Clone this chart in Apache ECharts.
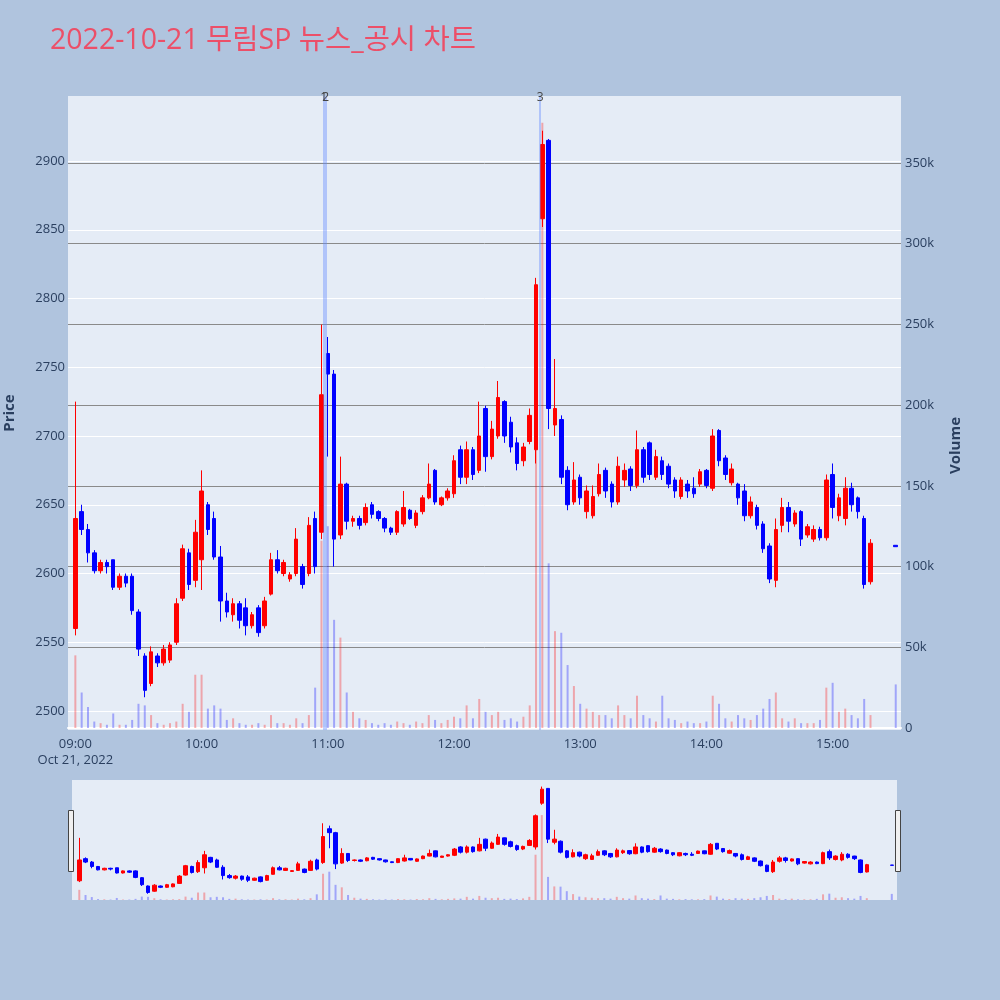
<!DOCTYPE html>
<html>
<head>
<meta charset="utf-8">
<script src="https://cdn.jsdelivr.net/npm/echarts@6/dist/echarts.min.js"></script>
<style>
html,body{margin:0;padding:0;background:#b0c4de}
#main{width:1000px;height:1000px}
</style>
</head>
<body>
<div id="main"></div>
<script>
// 3분봉 시각
const times = [
  '09:00','09:03','09:06','09:09','09:12','09:15','09:18','09:21','09:24','09:27',
  '09:30','09:33','09:36','09:39','09:42','09:45','09:48','09:51','09:54','09:57',
  '10:00','10:03','10:06','10:09','10:12','10:15','10:18','10:21','10:24','10:27',
  '10:30','10:33','10:36','10:39','10:42','10:45','10:48','10:51','10:54','10:57',
  '11:00','11:03','11:06','11:09','11:12','11:15','11:18','11:21','11:24','11:27',
  '11:30','11:33','11:36','11:39','11:42','11:45','11:48','11:51','11:54','11:57',
  '12:00','12:03','12:06','12:09','12:12','12:15','12:18','12:21','12:24','12:27',
  '12:30','12:33','12:36','12:39','12:42','12:45','12:48','12:51','12:54','12:57',
  '13:00','13:03','13:06','13:09','13:12','13:15','13:18','13:21','13:24','13:27',
  '13:30','13:33','13:36','13:39','13:42','13:45','13:48','13:51','13:54','13:57',
  '14:00','14:03','14:06','14:09','14:12','14:15','14:18','14:21','14:24','14:27',
  '14:30','14:33','14:36','14:39','14:42','14:45','14:48','14:51','14:54','14:57',
  '15:00','15:03','15:06','15:09','15:12','15:15','15:18','15:30'
];

// [시가, 종가, 저가, 고가]
const ohlc = [
  [2560,2640,2555,2725],[2645,2632,2628,2650],[2632,2615,2608,2636],[2615,2602,2600,2617],[2602,2608,2600,2610],
  [2608,2605,2600,2610],[2610,2590,2588,2610],[2590,2598,2588,2600],[2598,2593,2590,2600],[2598,2573,2570,2600],
  [2572,2545,2540,2574],[2540,2515,2510,2542],[2520,2543,2518,2547],[2540,2535,2532,2542],[2535,2545,2533,2548],
  [2537,2548,2535,2550],[2550,2578,2548,2582],[2582,2618,2580,2621],[2615,2592,2588,2618],[2595,2630,2590,2639],
  [2610,2660,2588,2675],[2650,2632,2628,2652],[2640,2612,2610,2645],[2612,2580,2565,2620],[2580,2572,2568,2586],
  [2570,2578,2565,2582],[2578,2566,2560,2580],[2575,2562,2555,2582],[2562,2570,2560,2572],[2575,2557,2554,2577],
  [2562,2580,2560,2583],[2585,2610,2584,2615],[2610,2602,2600,2617],[2600,2608,2598,2610],[2596,2599,2594,2601],
  [2600,2625,2598,2633],[2605,2592,2589,2607],[2600,2635,2598,2641],[2640,2605,2600,2645],[2630,2730,2625,2781],
  [2760,2745,2685,2772],[2745,2625,2605,2748],[2628,2665,2625,2685],[2665,2638,2632,2666],[2638,2640,2634,2642],
  [2640,2635,2632,2642],[2637,2648,2635,2651],[2650,2643,2640,2652],[2645,2640,2638,2646],[2640,2633,2630,2641],
  [2633,2630,2628,2634],[2630,2645,2628,2646],[2636,2648,2634,2660],[2646,2640,2639,2647],[2635,2644,2633,2646],
  [2645,2655,2643,2657],[2655,2665,2654,2680],[2675,2652,2650,2676],[2650,2655,2649,2656],[2655,2660,2653,2662],
  [2658,2682,2655,2686],[2690,2670,2665,2693],[2670,2690,2665,2696],[2690,2672,2668,2692],[2675,2700,2673,2725],
  [2720,2685,2674,2722],[2685,2705,2683,2711],[2700,2728,2698,2740],[2725,2700,2695,2726],[2710,2692,2688,2714],
  [2695,2680,2675,2699],[2682,2692,2678,2695],[2696,2715,2694,2720],[2690,2810,2680,2815],[2858,2912,2852,2922],
  [2915,2720,2705,2916],[2708,2720,2700,2756],[2712,2670,2665,2715],[2675,2650,2646,2678],[2652,2668,2650,2681],
  [2670,2655,2650,2672],[2645,2660,2640,2664],[2642,2656,2640,2664],[2658,2672,2656,2680],[2675,2660,2655,2677],
  [2665,2652,2648,2667],[2652,2678,2650,2685],[2668,2675,2663,2680],[2676,2664,2660,2678],[2664,2690,2662,2704],
  [2690,2670,2666,2692],[2695,2672,2668,2696],[2670,2685,2668,2690],[2682,2672,2668,2685],[2678,2665,2662,2680],
  [2668,2660,2655,2670],[2656,2668,2654,2670],[2665,2660,2655,2668],[2662,2658,2655,2670],[2665,2674,2663,2676],
  [2675,2664,2662,2676],[2662,2700,2660,2705],[2704,2682,2678,2705],[2684,2672,2668,2686],[2666,2676,2664,2680],
  [2665,2655,2650,2666],[2660,2642,2638,2665],[2642,2652,2640,2656],[2648,2635,2632,2650],[2636,2618,2615,2638],
  [2620,2596,2593,2622],[2595,2632,2590,2640],[2635,2648,2630,2655],[2648,2638,2630,2652],[2636,2644,2634,2646],
  [2645,2625,2620,2646],[2628,2634,2626,2636],[2625,2632,2623,2635],[2632,2626,2624,2634],[2626,2668,2624,2672],
  [2672,2648,2640,2680],[2642,2655,2638,2658],[2640,2662,2635,2670],[2662,2650,2645,2666],[2655,2645,2640,2656],
  [2640,2592,2589,2642],[2594,2622,2592,2625],[2620.5,2619.5,2619.5,2620.5]
];

// 거래량 (주)
const volumes = [
  45000,22000,13000,4000,3000,2000,9000,2000,2000,5000,
  15000,14000,8000,3000,2000,3000,4000,15000,10000,33000,
  33000,12000,14000,12000,5000,6000,3000,2000,2000,3000,
  2000,8000,3000,3000,2000,6000,3000,8000,25000,116000,
  125000,67000,56000,22000,10000,6000,5000,3000,2000,3000,
  2000,4000,3000,2000,4000,3000,8000,5000,3000,5000,
  7000,6000,14000,6000,18000,10000,8000,10000,5000,6000,
  4000,7000,14000,200000,375000,102000,60000,59000,39000,26000,
  15000,12000,10000,8000,8000,6000,14000,8000,6000,20000,
  8000,6000,4000,20000,6000,5000,3000,4000,3000,3000,
  4000,20000,15000,6000,4000,8000,6000,5000,8000,12000,
  18000,22000,6000,4000,6000,3000,3000,3000,5000,25000,
  28000,10000,12000,8000,6000,18000,8000,27000
];

// 뉴스/공시 시각
const newsTimes = ['10:58','10:59','12:41'];
const newsLabels = ['1','2','3'];

const axisFont = '"Open Sans", "Noto Sans CJK KR", sans-serif';
const fontColor = '#2a3f5f';
const UP = '#ff0000', DOWN = '#0000ff';

// 분 단위 카테고리 축 (08:57 ~ 15:32)
function toMin(t) { const p = t.split(':'); return (+p[0]) * 60 + (+p[1]); }
function toLabel(m) { return String(Math.floor(m / 60)).padStart(2, '0') + ':' + String(m % 60).padStart(2, '0'); }
const cats = [];
for (let m = toMin('08:57'); m <= toMin('15:32'); m++) cats.push(toLabel(m));

const pos = {};
times.forEach((t, i) => { pos[t] = i; });
const candleData = cats.map(c => pos[c] === undefined ? '-' : ohlc[pos[c]]);
const volData = cats.map(c => {
  const i = pos[c];
  if (i === undefined) return '-';
  return { value: volumes[i], itemStyle: { color: ohlc[i][1] >= ohlc[i][0] ? 'rgba(255,0,0,0.3)' : 'rgba(0,0,255,0.3)' } };
});

const hiddenAxis = { show: false, splitLine: { show: false } };

const chart = echarts.init(document.getElementById('main'));
chart.setOption({
  animation: false,
  backgroundColor: '#b0c4de',
  textStyle: { fontFamily: axisFont },
  title: {
    text: '2022-10-21 무림SP 뉴스_공시 차트',
    left: 50, top: 27, padding: 0,
    textStyle: { color: '#ec4f68', fontSize: 28.5, fontWeight: 'normal', fontFamily: axisFont }
  },
  grid: [
    { left: 68, top: 96, width: 833, height: 634, show: true, backgroundColor: '#e5ecf6', borderWidth: 0 },
    { left: 72, top: 780, width: 825, height: 120, show: true, backgroundColor: '#e5ecf6', borderWidth: 0 },
    // 가격 눈금용 (2450~2950)
    { left: 68, top: 92.25, width: 833, height: 687.5 },
    // 거래량 눈금용 (-50k~400k)
    { left: 68, top: 82.29, width: 833, height: 726.43 }
  ],
  xAxis: [
    {
      type: 'category', gridIndex: 0, data: cats, boundaryGap: true,
      axisLine: { show: false }, axisTick: { show: false }, splitLine: { show: false },
      axisLabel: {
        color: fontColor, fontSize: 13, margin: 6, lineHeight: 16,
        interval: (idx, v) => v.slice(3) === '00',
        formatter: v => v === '09:00' ? '09:00\nOct 21, 2022' : v
      }
    },
    { type: 'category', gridIndex: 1, data: cats, show: false },
    Object.assign({ type: 'value', gridIndex: 2, min: 0, max: 1 }, hiddenAxis),
    {
      type: 'value', gridIndex: 3, min: 0, max: 1,
      axisLine: { show: true, onZero: true, lineStyle: { color: '#ffffff', width: 2 } },
      axisTick: { show: false }, axisLabel: { show: false }, splitLine: { show: false }
    }
  ],
  yAxis: [
    Object.assign({ type: 'value', gridIndex: 0, min: 2486.18, max: 2947.27 }, hiddenAxis),
    Object.assign({ type: 'value', gridIndex: 0, min: -1239, max: 391500 }, hiddenAxis),
    Object.assign({ type: 'value', gridIndex: 1, min: 2486.18, max: 2947.27 }, hiddenAxis),
    Object.assign({ type: 'value', gridIndex: 1, min: 0, max: 530000 }, hiddenAxis),
    {
      type: 'value', gridIndex: 2, position: 'left', min: 2450, max: 2950, interval: 50,
      axisLine: { show: false }, axisTick: { show: false },
      axisLabel: { color: fontColor, fontSize: 13, margin: 3, showMinLabel: false, showMaxLabel: false, formatter: v => String(v) },
      splitLine: { show: true, showMinLine: false, showMaxLine: false, lineStyle: { color: '#ffffff', width: 1 } }
    },
    {
      type: 'value', gridIndex: 3, position: 'right', min: -50000, max: 400000, interval: 50000,
      name: 'Volume', nameLocation: 'middle', nameGap: 47, nameRotate: 90, nameMoveOverlap: false,
      nameTextStyle: { color: fontColor, fontSize: 15, fontWeight: 'bold' },
      axisLine: { show: false }, axisTick: { show: false },
      axisLabel: {
        color: fontColor, fontSize: 13, margin: 4, showMinLabel: false, showMaxLabel: false,
        formatter: v => v === 0 ? '0' : (v / 1000) + 'k'
      },
      splitLine: { show: true, showMinLine: false, showMaxLine: false, lineStyle: { color: '#8a8a8a', width: 1 } }
    }
  ],
  series: [
    {
      name: 'Volume', type: 'bar', xAxisIndex: 0, yAxisIndex: 1,
      data: volData, barWidth: 2, z: 3
    },
    {
      name: 'Price', type: 'candlestick', xAxisIndex: 0, yAxisIndex: 0,
      data: candleData, barWidth: 4, z: 4,
      itemStyle: { color: UP, color0: DOWN, borderColor: UP, borderColor0: DOWN, borderWidth: 1 },
      markLine: {
        symbol: ['none', 'none'], silent: true,
        lineStyle: { color: 'rgba(100,140,255,0.55)', width: 1.5, type: 'solid' },
        label: { show: true, position: 'end', distance: -8, color: '#444', fontSize: 12, formatter: '{b}' },
        data: newsTimes.map((t, i) => ({ name: newsLabels[i], xAxis: t }))
      }
    },
    {
      type: 'bar', xAxisIndex: 1, yAxisIndex: 3,
      data: volData, barWidth: 2, z: 3, silent: true
    },
    {
      type: 'candlestick', xAxisIndex: 1, yAxisIndex: 2,
      data: candleData, barWidth: 4, z: 4, silent: true,
      itemStyle: { color: UP, color0: DOWN, borderColor: UP, borderColor0: DOWN, borderWidth: 1 }
    }
  ],
  graphic: [
    {
      type: 'text', x: 10, y: 413, rotation: Math.PI / 2,
      style: { text: 'Price', align: 'center', verticalAlign: 'middle', fill: fontColor, font: 'bold 15px "Open Sans", sans-serif' }
    },
    { type: 'rect', shape: { x: 68.5, y: 810.5, width: 5, height: 61 }, style: { fill: '#f0f0f0', stroke: '#444', lineWidth: 1 }, z: 10 },
    { type: 'rect', shape: { x: 895.5, y: 810.5, width: 5, height: 61 }, style: { fill: '#f0f0f0', stroke: '#444', lineWidth: 1 }, z: 10 }
  ]
});
</script>
</body>
</html>
